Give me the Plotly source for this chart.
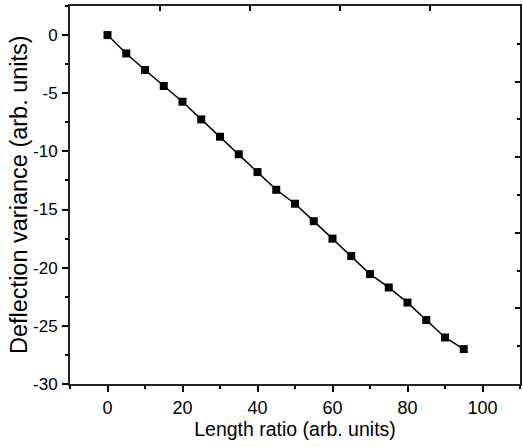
import plotly.graph_objects as go

length_ratio = [0, 5, 10, 15, 20, 25, 30, 35, 40, 45, 50, 55, 60, 65, 70, 75, 80, 85, 90, 95]
deflection = [0, -1.58, -3.0, -4.38, -5.73, -7.25, -8.74, -10.25, -11.78, -13.3,
              -14.5, -16.0, -17.5, -19.0, -20.55, -21.7, -23.0, -24.5, -26.0, -27.0]

x_tickvals = [0, 20, 40, 60, 80, 100]
x_ticktext = ["0", "20", "40", "60", "80", "100"]
y_tickvals = [0, -5, -10, -15, -20, -25, -30]
y_ticktext = ["0", "-5", "-10", "-15", "-20", "-25", "-30"]

REG = "Liberation Sans, Arial, sans-serif"

fig = go.Figure()
fig.add_trace(go.Scatter(
    x=length_ratio, y=deflection, mode="lines+markers",
    line=dict(color="black", width=1.5),
    marker=dict(symbol="square", size=8, color="black"),
    showlegend=False, hoverinfo="skip",
))
fig.add_trace(go.Scatter(x=[None], y=[None], xaxis="x2", yaxis="y2",
                         showlegend=False, hoverinfo="skip"))

fig.update_layout(
    width=523, height=447,
    margin=dict(l=70, r=3, t=6, b=63),
    paper_bgcolor="white", plot_bgcolor="white",
    font=dict(family=REG, color="black"),
    xaxis=dict(
        range=[-10, 110], tickvals=x_tickvals, ticktext=x_ticktext,
        ticks="outside", ticklen=6, tickwidth=1.5, tickcolor="black",
        minor=dict(tickvals=[-10, 10, 30, 50, 70, 90, 110], ticklen=3, tickwidth=1.5, tickcolor="black", ticks="outside"),
        showline=True, linecolor="#222", linewidth=2, mirror=True,
        showgrid=False, zeroline=False, automargin=False,
        tickfont=dict(size=18),
        title=dict(text="Length ratio (arb. units)", font=dict(size=19.5), standoff=3),
    ),
    yaxis=dict(
        range=[-30, 2.5], tickvals=y_tickvals, ticktext=y_ticktext,
        ticks="outside", ticklen=6, tickwidth=1.5, tickcolor="black",
        minor=dict(tickvals=[-27.5, -22.5, -17.5, -12.5, -7.5, -2.5, 2.5], ticklen=3, tickwidth=1.5, tickcolor="black", ticks="outside"),
        showline=True, linecolor="#222", linewidth=2, mirror=True,
        showgrid=False, zeroline=False, automargin=False,
        tickfont=dict(size=17), ticklabelstandoff=1,
    ),
    xaxis2=dict(
        overlaying="x", side="top", range=[0, 5], tickvals=[1, 2, 3, 4],
        ticks="inside", ticklen=5, tickwidth=1.5, tickcolor="black",
        showticklabels=False, showgrid=False, zeroline=False, showline=False,
        automargin=False,
    ),
    yaxis2=dict(
        overlaying="y", side="right", range=[0, 10], tickvals=[2, 4, 6, 8],
        ticks="inside", ticklen=5, tickwidth=1.5, tickcolor="black",
        minor=dict(tickvals=[1, 3, 5, 7, 9], ticklen=3, tickwidth=1.5, tickcolor="black", ticks="inside"),
        showticklabels=False, showgrid=False, zeroline=False, showline=False,
        automargin=False,
    ),
    annotations=[dict(
        text="Deflection variance (arb. units)", textangle=-90,
        xref="paper", yref="paper", x=0, y=0.5, xanchor="center", yanchor="middle",
        xshift=-51, showarrow=False, font=dict(size=23.5),
    )],
)

fig.write_html("out.html", config={"displayModeBar": False},
               post_script="document.body.style.margin='0';")
